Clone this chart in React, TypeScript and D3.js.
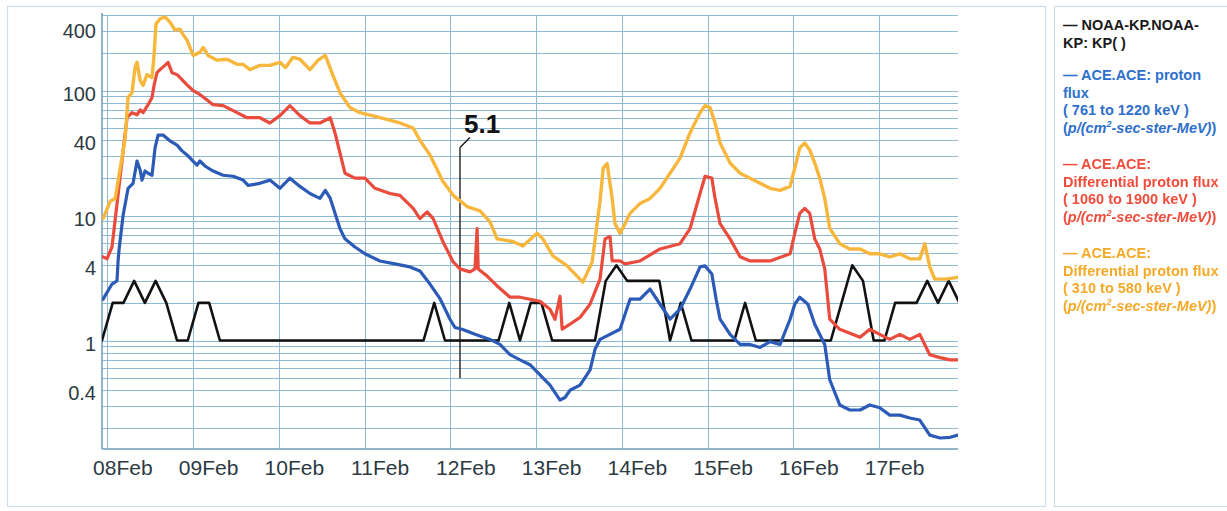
import React from 'react';
import * as d3 from 'd3';

// Day labels on the time axis (one per day, starting 08Feb 00:00)
const dayLabels = ['08Feb', '09Feb', '10Feb', '11Feb', '12Feb', '13Feb', '14Feb', '15Feb', '16Feb', '17Feb'];

// Log-axis labels
const yTickValues = [0.4, 1, 4, 10, 40, 100, 400];
const yTickLabels = ['0.4', '1', '4', '10', '40', '100', '400'];

// Planetary Kp index, 3-hour values; first value centred at 07Feb 22:30
const kpFirstHour = -1.5;
const kpStepHours = 3;
const kpValues = [
  1, 2, 2, 3, 2, 3, 2, 1, 1, 2, 2, 1,
  1, 1, 1, 1, 1, 1, 1, 1, 1, 1, 1, 1, 1, 1, 1, 1, 1, 1, 1,
  2, 1,
  1, 1, 1, 1, 1,
  2, 1, 2, 2, 1,
  1, 1, 1, 1,
  3, 4, 3, 3, 3, 3, 1, 2, 1,
  1, 1, 1, 1,
  2, 1,
  1, 1, 1, 1, 1, 1, 1,
  2, 4, 3, 1, 1, 2, 2, 2, 3, 2, 3, 2,
];

// ACE proton flux, [hours after 08Feb 00:00, p/(cm2-sec-ster-MeV)]
const flux761to1220: [number, number][] = [
  [-1.2, 2.14], [1.3, 2.83], [2.7, 3.0], [3.0, 4.33], [3.3, 5.42], [4.4, 10], [5.8, 16.5],
  [7.2, 18.1], [8.3, 27.3], [9.2, 23], [9.7, 19.2], [10.55, 22.7], [11.4, 21.8], [12.5, 21],
  [13.35, 34.7], [14.2, 44], [15.6, 44], [17.5, 39.6], [19.5, 36.6], [20.9, 32.9], [22.3, 30.5],
  [23.7, 27.8], [25.1, 25.3], [25.9, 27.3], [27.3, 24.9], [29.6, 22.7], [32.4, 21], [35.2, 20.6],
  [38.0, 19.2], [39.4, 17.4], [42.7, 18.1], [45.5, 19.2], [48.3, 16.5], [51.1, 19.9], [53.9, 17.1],
  [56.7, 15], [59.5, 13.7], [61.0, 15.9], [62.4, 13.7], [65.1, 7.86], [66.5, 6.52], [69.3, 5.6],
  [72.1, 4.94], [76.3, 4.33], [80.5, 4.1], [84.7, 3.88], [87.5, 3.6], [90.3, 2.83], [93.2, 2.14],
  [95.9, 1.48], [97.3, 1.27], [99.3, 1.23], [102.9, 1.12], [107.1, 1.02], [109.9, 0.93],
  [112.7, 0.77], [115.5, 0.7], [118.3, 0.64], [121.1, 0.53], [123.9, 0.44], [126.7, 0.334],
  [128.1, 0.35], [129.5, 0.4], [132.3, 0.44], [135.1, 0.58], [136.5, 0.85], [137.9, 1.02],
  [143.5, 1.23], [146.3, 2.14], [149.1, 2.14], [151.9, 2.58], [154.7, 1.95], [157.5, 1.48],
  [160.3, 1.78], [163.1, 2.58], [165.9, 3.88], [167.3, 3.95], [169.2, 3.41], [170.4, 2.14],
  [171.5, 1.48], [174.3, 1.12], [177.1, 0.93], [179.9, 0.93], [182.7, 0.88], [185.5, 0.98],
  [188.3, 0.93], [191.1, 1.48], [192.4, 1.95], [193.8, 2.22], [196.1, 1.95], [198.0, 1.35],
  [200.8, 0.93], [202.2, 0.485], [205.0, 0.305], [207.8, 0.278], [210.7, 0.278], [213.4, 0.305],
  [216.2, 0.29], [219.0, 0.253], [221.8, 0.253], [224.6, 0.24], [227.4, 0.231], [230.2, 0.175],
  [233.1, 0.166], [235.9, 0.168], [238.1, 0.175],
];

const flux1060to1900: [number, number][] = [
  [-1.2, 4.67], [-0.1, 4.5], [1.3, 5.6], [5.5, 60.6], [6.9, 66.5], [8.3, 64], [9.2, 70],
  [10.0, 66.5], [11.4, 77], [12.5, 88], [13.1, 111], [13.9, 139], [14.75, 147], [16.1, 159],
  [17.0, 168], [18.1, 139], [19.5, 134], [20.9, 122], [22.3, 111], [24.0, 100], [25.9, 93],
  [27.9, 84], [29.6, 77], [32.4, 75.7], [35.2, 69], [39.1, 60.6], [42.7, 60.6], [45.5, 55],
  [48.3, 63], [51.1, 75.7], [53.9, 63], [56.7, 55], [59.5, 55], [62.4, 60.6], [63.7, 46],
  [66.5, 21.8], [69.3, 19.9], [72.1, 19.9], [74.9, 16.5], [79.1, 15], [81.9, 14.5], [85.6, 11.4],
  [87.5, 9.45], [89.5, 10.7], [91.2, 9.45], [93.9, 6.2], [96.8, 4.25], [98.7, 3.74], [101.5, 3.54],
  [102.9, 3.74], [103.5, 7.86], [103.8, 3.74], [106.3, 3.28], [109.1, 2.73], [112.7, 2.22],
  [115.5, 2.22], [118.3, 2.14], [121.1, 2.06], [123.9, 1.78], [125.3, 1.48], [126.7, 2.26],
  [127.3, 1.23], [129.5, 1.35], [132.3, 1.53], [135.1, 1.95], [137.9, 3.1], [139.3, 6.5],
  [140.7, 6.8], [141.3, 4.33], [143.5, 4.33], [144.9, 4.1], [149.1, 4.33], [154.7, 5.4],
  [160.3, 5.95], [163.1, 7.86], [165.9, 15], [167.3, 20.6], [169.2, 19.9], [170.1, 13.7],
  [171.5, 8.6], [174.3, 6.5], [177.1, 4.67], [179.9, 4.33], [185.5, 4.33], [191.1, 4.94],
  [192.4, 7.16], [193.8, 10.4], [195.2, 11.4], [196.6, 10.4], [198.0, 6.5], [199.4, 5.4],
  [200.8, 3.74], [202.2, 1.48], [205.0, 1.23], [210.7, 1.06], [213.4, 1.23], [216.2, 1.12],
  [219.0, 1.02], [221.8, 1.12], [224.6, 1.02], [227.4, 1.12], [230.2, 0.77], [233.1, 0.73],
  [235.9, 0.7], [238.1, 0.7],
];

const flux310to580: [number, number][] = [
  [-1.2, 9.45], [0.8, 13], [2.2, 13.7], [5.0, 41.8], [5.8, 88], [6.9, 96], [7.75, 153],
  [8.3, 168], [9.2, 120], [10.0, 110], [11.1, 134], [12.5, 127], [13.1, 195], [13.6, 340],
  [14.75, 375], [16.1, 388], [17.5, 354], [18.9, 305], [20.3, 310], [21.2, 280], [22.3, 253],
  [24.0, 191], [25.9, 202], [26.8, 221], [28.2, 191], [30.7, 175], [33.5, 178], [36.3, 162],
  [38.0, 162], [39.9, 147], [42.7, 159], [45.5, 159], [48.3, 168], [49.9, 153], [51.9, 184],
  [53.9, 178], [56.7, 147], [59.0, 175], [61.0, 191], [63.2, 131], [65.1, 96], [67.9, 73],
  [70.7, 66.5], [76.3, 60.6], [81.9, 55], [85.6, 50], [87.5, 40], [90.3, 30.5], [93.9, 18.8],
  [96.8, 14.5], [100.7, 11.8], [104.3, 10.9], [107.1, 8.9], [109.1, 6.5], [113.5, 6.2],
  [116.3, 5.7], [120.3, 7.2], [121.9, 6.5], [124.7, 4.75], [128.7, 3.95], [133.1, 2.93],
  [135.7, 4.25], [137.9, 13], [138.8, 24], [139.9, 26], [141.3, 13.7], [142.1, 8.6],
  [143.5, 7.2], [144.9, 8.6], [146.3, 10.4], [149.1, 12.5], [151.9, 13.7], [154.7, 16.5],
  [157.5, 21.8], [160.3, 28.8], [163.1, 46], [165.9, 66.5], [167.3, 75.7], [168.7, 73],
  [170.1, 55], [171.5, 38], [174.3, 26.3], [177.1, 21.8], [179.9, 19.9], [182.7, 18.1],
  [185.5, 16.5], [188.3, 15.9], [191.1, 17.1], [192.4, 23.9], [193.8, 34.7], [195.2, 38],
  [196.6, 33.4], [198.0, 26.3], [199.4, 19.9], [200.8, 13.7], [202.2, 7.9], [205.0, 5.95],
  [207.8, 5.4], [210.7, 5.4], [213.4, 4.94], [216.2, 4.94], [219.0, 4.67], [221.8, 4.94],
  [224.6, 4.5], [227.4, 4.5], [228.8, 5.95], [230.2, 3.88], [231.6, 3.1], [234.5, 3.1],
  [238.1, 3.2],
];

// Event marker: hour, label and the vertical extent of its leader (in flux units)
const eventHour = 98.7;
const eventLabel = '5.1';
const eventTop = 35;
const eventBottom = 0.5;

const FONT = "'Liberation Sans', Arial, Helvetica, sans-serif";
const GRID = '#8db9d3';
const FRAME = '#cadfeb';
const AXIS_TEXT = '#2c3a42';

const COLORS = {
  kp: '#111111',
  p761: '#2c5bb7',
  p1060: '#e94b3c',
  p310: '#f6b73c',
};

type LegendLine = { text: string; italicUnit?: boolean };

function UnitText() {
  return (
    <>
      (<tspan fontStyle="italic">p/(cm</tspan>
      <tspan fontStyle="italic" fontSize="9" dy="-6">2</tspan>
      <tspan fontStyle="italic" dy="6">-sec-ster-MeV)</tspan>)
    </>
  );
}

function LegendBlock({ x, y, color, lines, blur }: { x: number; y: number; color: string; lines: LegendLine[]; blur?: boolean }) {
  return (
    <g filter={blur ? 'url(#soft)' : undefined} fill={color} fontFamily={FONT} fontWeight="bold" fontSize={14.5}>
      {lines.map((l, i) => (
        <text key={i} x={x} y={y + i * 17.5}>
          {l.italicUnit ? <UnitText /> : l.text}
        </text>
      ))}
    </g>
  );
}

export default function App() {
  const W = 1227;
  const H = 511;
  const plot = { left: 102, right: 958, top: 15, bottom: 449 };

  const x = d3.scaleLinear().domain([-1.5, 238.1]).range([plot.left, plot.right]);
  const y = d3.scaleLog().domain([0.1355, 402]).range([plot.bottom, plot.top]);

  const line = d3
    .line<[number, number]>()
    .x((d) => x(d[0]))
    .y((d) => y(d[1]));

  const kpPoints: [number, number][] = kpValues.map((v, i) => [kpFirstHour + i * kpStepHours, v]);

  const [yMin, yMax] = y.domain();
  const gridValues: number[] = [];
  for (let e = -1; e <= 2; e++) {
    for (let m = 1; m <= 9; m++) {
      const v = m * Math.pow(10, e);
      if (v >= yMin && v <= yMax) gridValues.push(v);
    }
  }

  const dayTicks = dayLabels.map((label, i) => ({ label, x: x(i * 24) }));

  const ex = x(eventHour);
  const eTop = y(eventTop);
  const eBottom = y(eventBottom);

  const legendX = 1063;

  return (
    <svg
      width={W}
      height={H}
      viewBox={`0 0 ${W} ${H}`}
      style={{ position: 'absolute', left: 0, top: 0, background: '#ffffff' }}
    >
      <defs>
        <clipPath id="plot-clip">
          <rect x={plot.left} y={plot.top} width={plot.right - plot.left} height={plot.bottom - plot.top} />
        </clipPath>
        <filter id="soft" x="-5%" y="-20%" width="110%" height="140%">
          <feGaussianBlur stdDeviation="0.7" />
        </filter>
      </defs>

      {/* panel frames */}
      <rect x={7.5} y={6.5} width={1038} height={500} fill="none" stroke={FRAME} strokeWidth={1.2} />
      <rect x={1054.5} y={6.5} width={190} height={500} fill="none" stroke={FRAME} strokeWidth={1.2} />

      {/* horizontal log grid */}
      <g stroke={GRID} strokeWidth={1}>
        {gridValues.map((v) => (
          <line key={v} x1={plot.left} x2={plot.right} y1={Math.round(y(v)) + 0.5} y2={Math.round(y(v)) + 0.5} />
        ))}
      </g>

      {/* vertical day grid */}
      <g stroke={GRID} strokeWidth={1}>
        {dayTicks.map((t) => (
          <line key={t.label} x1={Math.round(t.x) + 0.5} x2={Math.round(t.x) + 0.5} y1={plot.top} y2={plot.bottom} />
        ))}
      </g>

      {/* axes */}
      <g stroke="#6f9db8" strokeWidth={1.5}>
        <line x1={plot.left} x2={plot.left} y1={plot.top - 2} y2={plot.bottom} />
        <line x1={plot.left} x2={plot.right} y1={plot.bottom} y2={plot.bottom} />
      </g>

      {/* y labels (kept clear of the top edge of the plot) */}
      <g fontFamily={FONT} fontSize={20} fill={AXIS_TEXT} textAnchor="end">
        {yTickValues.map((v, i) => (
          <text key={v} x={96} y={Math.max(y(v), plot.top + 13)} dy="0.5em">
            {yTickLabels[i]}
          </text>
        ))}
      </g>

      {/* x labels */}
      <g fontFamily={FONT} fontSize={21} fill={AXIS_TEXT} textAnchor="middle">
        {dayTicks.map((t) => (
          <text key={t.label} x={t.x + 15.5} y={475}>
            {t.label}
          </text>
        ))}
      </g>

      {/* event marker */}
      <g stroke="#111" strokeWidth={1.3} fill="none">
        <polyline points={`${ex + 10},${eTop - 10} ${ex + 3},${eTop - 3} ${ex},${eTop}`} />
        <line x1={ex} x2={ex} y1={eTop} y2={eBottom} />
      </g>
      <text x={ex + 4} y={eTop - 15} fontFamily={FONT} fontWeight="bold" fontSize={26} fill="#111">
        {eventLabel}
      </text>

      {/* series */}
      <g clipPath="url(#plot-clip)" fill="none" strokeLinejoin="round" strokeLinecap="round">
        <path d={line(kpPoints) ?? ''} stroke={COLORS.kp} strokeWidth={2.6} />
        <path d={line(flux761to1220) ?? ''} stroke={COLORS.p761} strokeWidth={3.2} />
        <path d={line(flux1060to1900) ?? ''} stroke={COLORS.p1060} strokeWidth={3.2} />
        <path d={line(flux310to580) ?? ''} stroke={COLORS.p310} strokeWidth={3.4} />
      </g>

      {/* legend */}
      <LegendBlock
        x={legendX}
        y={30}
        color="#1a1a1a"
        lines={[{ text: '\u2014 NOAA-KP.NOAA-' }, { text: 'KP: KP( )' }]}
      />
      <LegendBlock
        x={legendX}
        y={80}
        color="#2e6fcc"
        lines={[
          { text: '\u2014 ACE.ACE: proton' },
          { text: 'flux' },
          { text: '( 761 to 1220 keV )' },
          { text: '', italicUnit: true },
        ]}
      />
      <LegendBlock
        x={legendX}
        y={169}
        color="#f04c3b"
        blur
        lines={[
          { text: '\u2014 ACE.ACE:' },
          { text: 'Differential proton flux' },
          { text: '( 1060 to 1900 keV )' },
          { text: '', italicUnit: true },
        ]}
      />
      <LegendBlock
        x={legendX}
        y={258}
        color="#f5a928"
        blur
        lines={[
          { text: '\u2014 ACE.ACE:' },
          { text: 'Differential proton flux' },
          { text: '( 310 to 580 keV )' },
          { text: '', italicUnit: true },
        ]}
      />
    </svg>
  );
}
